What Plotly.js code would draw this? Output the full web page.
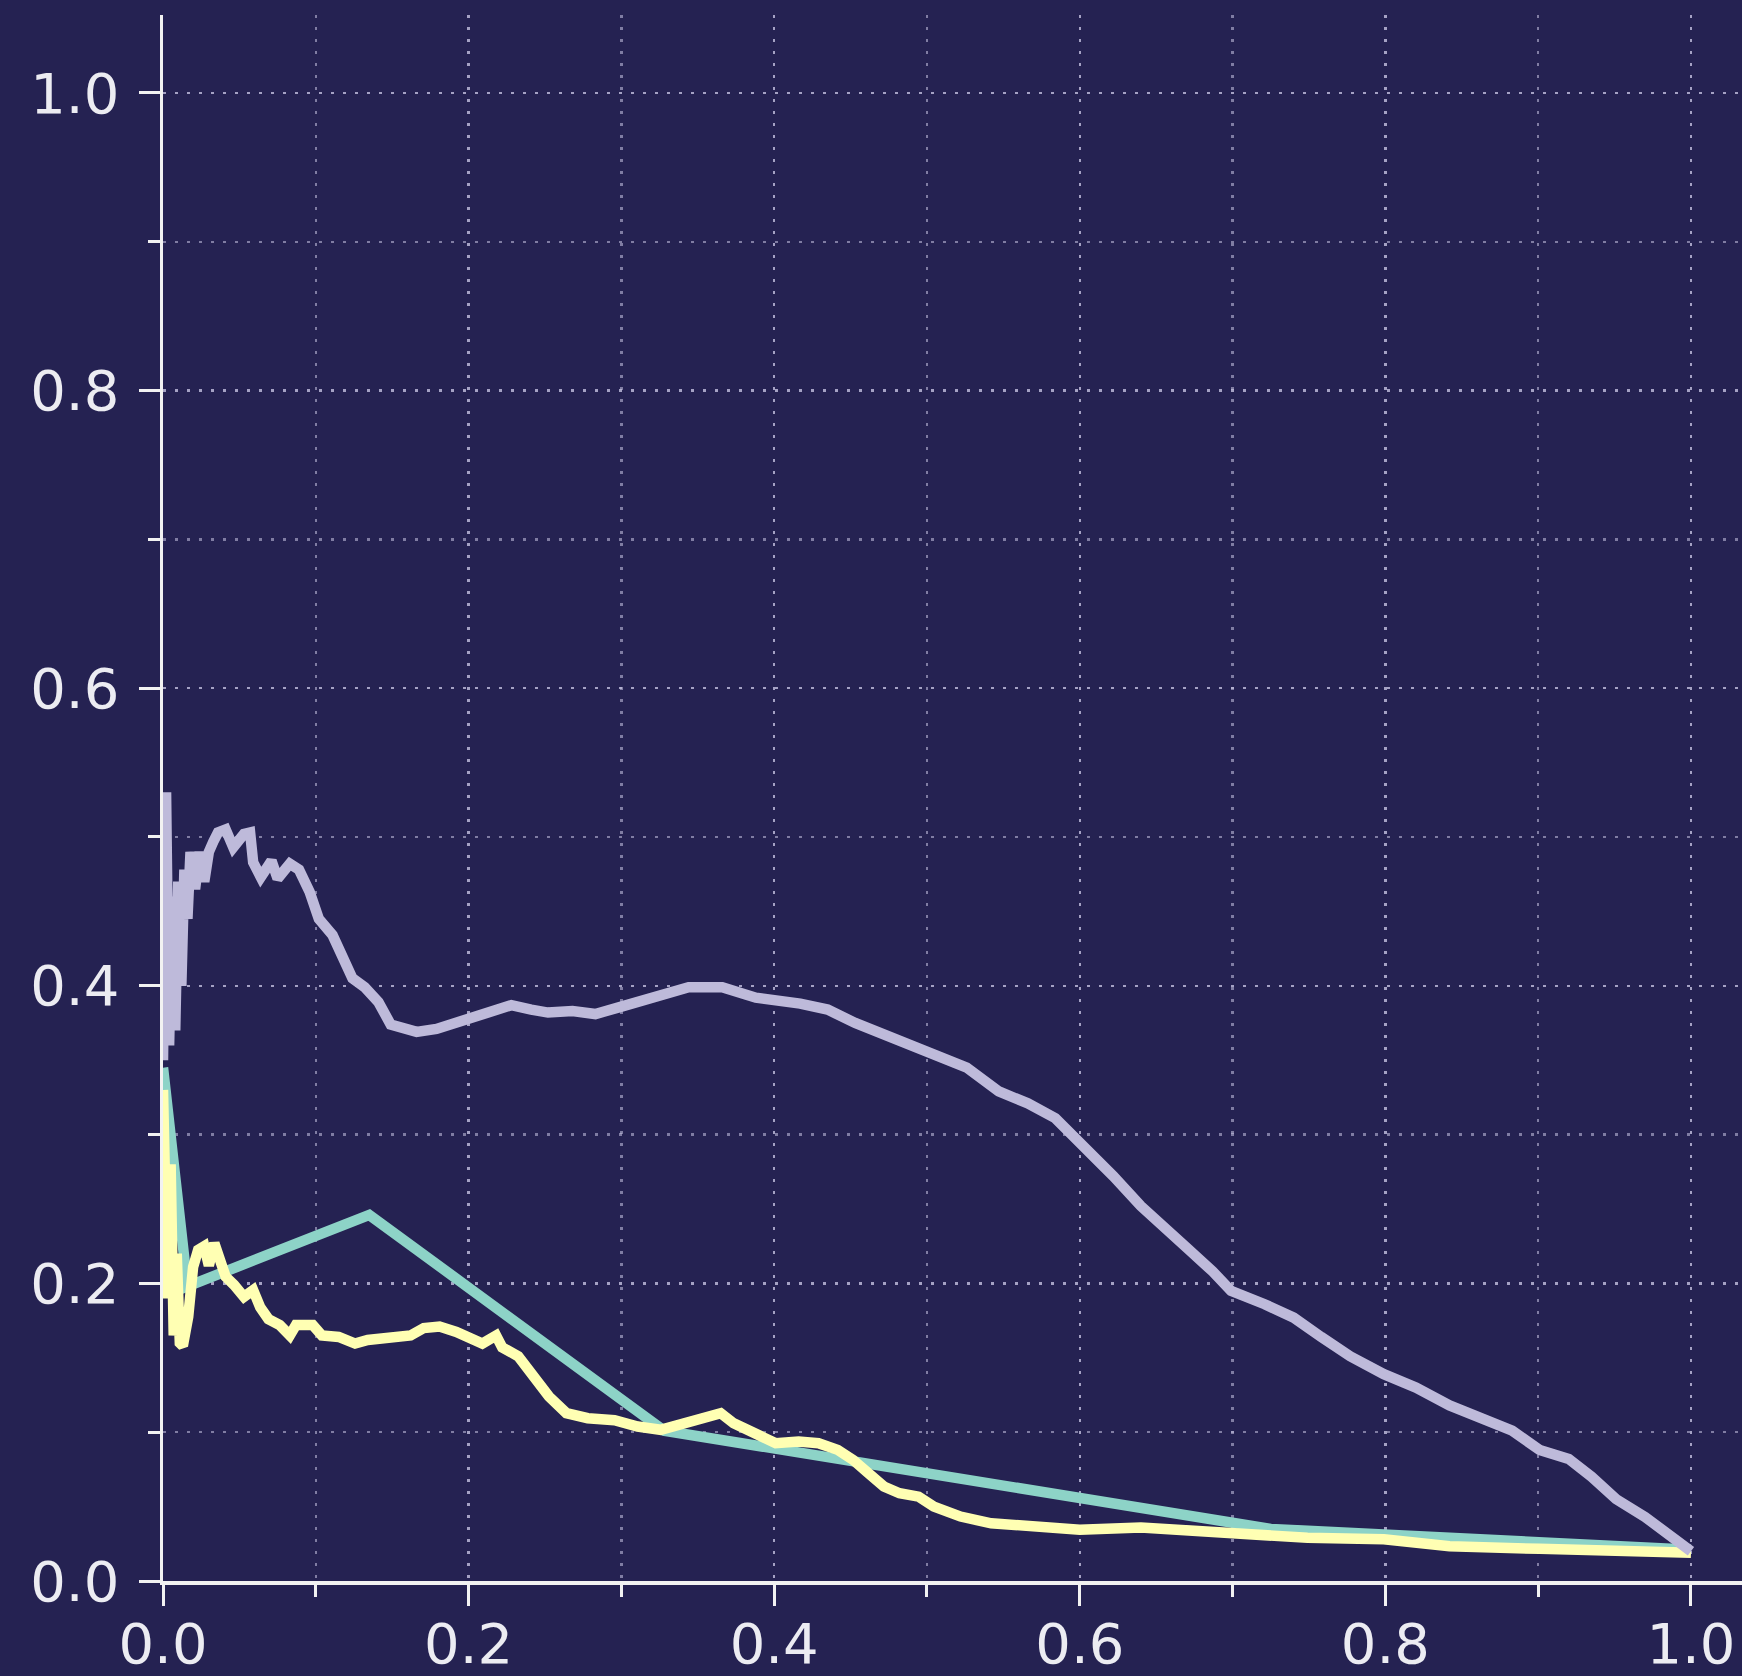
<!DOCTYPE html>
<html>
<head>
<meta charset="utf-8">
<script src="https://cdn.plot.ly/plotly-3.0.1.min.js"></script>
<style>html,body{margin:0;padding:0;background:#252252;}#chart{width:1742px;height:1676px;}</style>
</head>
<body>
<div id="chart"></div>
<script>
// Series 1 (teal)
const tealX = [0.000, 0.016, 0.135, 0.328, 0.725, 1.000];
const tealY = [0.345, 0.198, 0.246, 0.101, 0.035, 0.021];

// Series 2 (yellow)
const yellowX = [0.000, 0.003, 0.005, 0.007, 0.009, 0.011, 0.013, 0.0165, 0.0197, 0.023, 0.027, 0.030, 0.0336, 0.038, 0.041, 0.0465, 0.053, 0.059, 0.0636, 0.069, 0.0764, 0.083, 0.087, 0.098, 0.104, 0.115, 0.1257, 0.134, 0.149, 0.162, 0.1707, 0.181, 0.192, 0.2006, 0.209, 0.218, 0.222, 0.2325, 0.2426, 0.2526, 0.264, 0.278, 0.2955, 0.3106, 0.3257, 0.341, 0.356, 0.365, 0.3735, 0.386, 0.401, 0.416, 0.429, 0.4416, 0.4516, 0.4617, 0.4718, 0.482, 0.4945, 0.5045, 0.522, 0.542, 0.567, 0.600, 0.640, 0.699, 0.749, 0.799, 0.842, 0.901, 0.951, 1.000];
const yellowY = [0.330, 0.190, 0.280, 0.165, 0.220, 0.160, 0.158, 0.1775, 0.211, 0.2225, 0.225, 0.212, 0.227, 0.2157, 0.2045, 0.199, 0.191, 0.1955, 0.184, 0.176, 0.172, 0.165, 0.172, 0.172, 0.165, 0.164, 0.1596, 0.162, 0.1636, 0.165, 0.170, 0.171, 0.1674, 0.164, 0.1596, 0.165, 0.157, 0.151, 0.1374, 0.124, 0.1128, 0.1094, 0.108, 0.1038, 0.1016, 0.106, 0.1105, 0.1128, 0.106, 0.0993, 0.0926, 0.0937, 0.0926, 0.0881, 0.0814, 0.0724, 0.0635, 0.059, 0.0567, 0.050, 0.0433, 0.0388, 0.0365, 0.0344, 0.036, 0.0319, 0.029, 0.028, 0.0234, 0.0216, 0.0203, 0.019];

// Series 3 (lavender)
const lavX = [0.000, 0.002, 0.004, 0.006, 0.008, 0.010, 0.012, 0.014, 0.016, 0.018, 0.021, 0.024, 0.027, 0.030, 0.033, 0.036, 0.041, 0.046, 0.053, 0.057, 0.059, 0.064, 0.071, 0.075, 0.083, 0.089, 0.096, 0.102, 0.111, 0.118, 0.124, 0.132, 0.141, 0.149, 0.160, 0.166, 0.179, 0.194, 0.209, 0.228, 0.241, 0.252, 0.268, 0.283, 0.300, 0.315, 0.329, 0.344, 0.366, 0.388, 0.417, 0.435, 0.453, 0.475, 0.497, 0.526, 0.547, 0.566, 0.584, 0.600, 0.612, 0.622, 0.640, 0.656, 0.671, 0.687, 0.699, 0.721, 0.740, 0.758, 0.777, 0.799, 0.820, 0.842, 0.864, 0.883, 0.901, 0.920, 0.935, 0.951, 0.970, 0.985, 1.000];
const lavY = [0.350, 0.530, 0.360, 0.460, 0.370, 0.470, 0.400, 0.478, 0.445, 0.490, 0.465, 0.490, 0.470, 0.490, 0.497, 0.503, 0.505, 0.493, 0.502, 0.503, 0.483, 0.473, 0.484, 0.472, 0.482, 0.478, 0.463, 0.445, 0.434, 0.420, 0.405, 0.399, 0.389, 0.374, 0.371, 0.369, 0.371, 0.376, 0.382, 0.387, 0.384, 0.382, 0.383, 0.381, 0.386, 0.390, 0.395, 0.399, 0.399, 0.392, 0.388, 0.384, 0.375, 0.366, 0.356, 0.345, 0.329, 0.321, 0.311, 0.295, 0.283, 0.272, 0.252, 0.236, 0.223, 0.208, 0.195, 0.186, 0.177, 0.164, 0.151, 0.139, 0.130, 0.118, 0.109, 0.101, 0.088, 0.082, 0.070, 0.055, 0.043, 0.031, 0.020];

const tickVals = [0.0, 0.2, 0.4, 0.6, 0.8, 1.0];
const tickText = ['0.0', '0.2', '0.4', '0.6', '0.8', '1.0'];

const lw = 10.5;
const traces = [
  {x: tealX, y: tealY, mode: 'lines', line: {color: '#8dd3c7', width: lw}, hoverinfo: 'skip'},
  {x: yellowX, y: yellowY, mode: 'lines', line: {color: '#ffffb3', width: lw}, hoverinfo: 'skip'},
  {x: lavX, y: lavY, mode: 'lines', line: {color: '#bebada', width: lw}, hoverinfo: 'skip'}
];

const gridCol = 'rgba(190,186,218,0.6)';
const axisCommon = {
  showline: true, linecolor: '#f2f2f2', linewidth: 3.5,
  ticks: 'outside', ticklen: 21, tickwidth: 3, tickcolor: '#f2f2f2',
  tickvals: tickVals, ticktext: tickText,
  tickfont: {family: 'DejaVu Sans', size: 56, color: '#ececf2'},
  showgrid: true, gridcolor: gridCol, gridwidth: 2.5, griddash: '3px,9px',
  zeroline: false,
  minor: {dtick: 0.1, tick0: 0, ticks: 'outside', ticklen: 12, tickwidth: 3, tickcolor: '#f2f2f2',
          showgrid: true, gridcolor: gridCol, gridwidth: 2.5, griddash: '3px,9px'},
  fixedrange: true
};

const layout = {
  width: 1742, height: 1676,
  margin: {l: 163, r: 0, t: 15, b: 95, pad: 0},
  paper_bgcolor: '#252252', plot_bgcolor: '#252252',
  showlegend: false,
  xaxis: Object.assign({}, axisCommon, {range: [0, 1.0334], ticklabelstandoff: -10}),
  yaxis: Object.assign({}, axisCommon, {range: [0, 1.0524], ticklabelstandoff: 8})
};

Plotly.newPlot('chart', traces, layout, {staticPlot: true, displayModeBar: false});
</script>
</body>
</html>
